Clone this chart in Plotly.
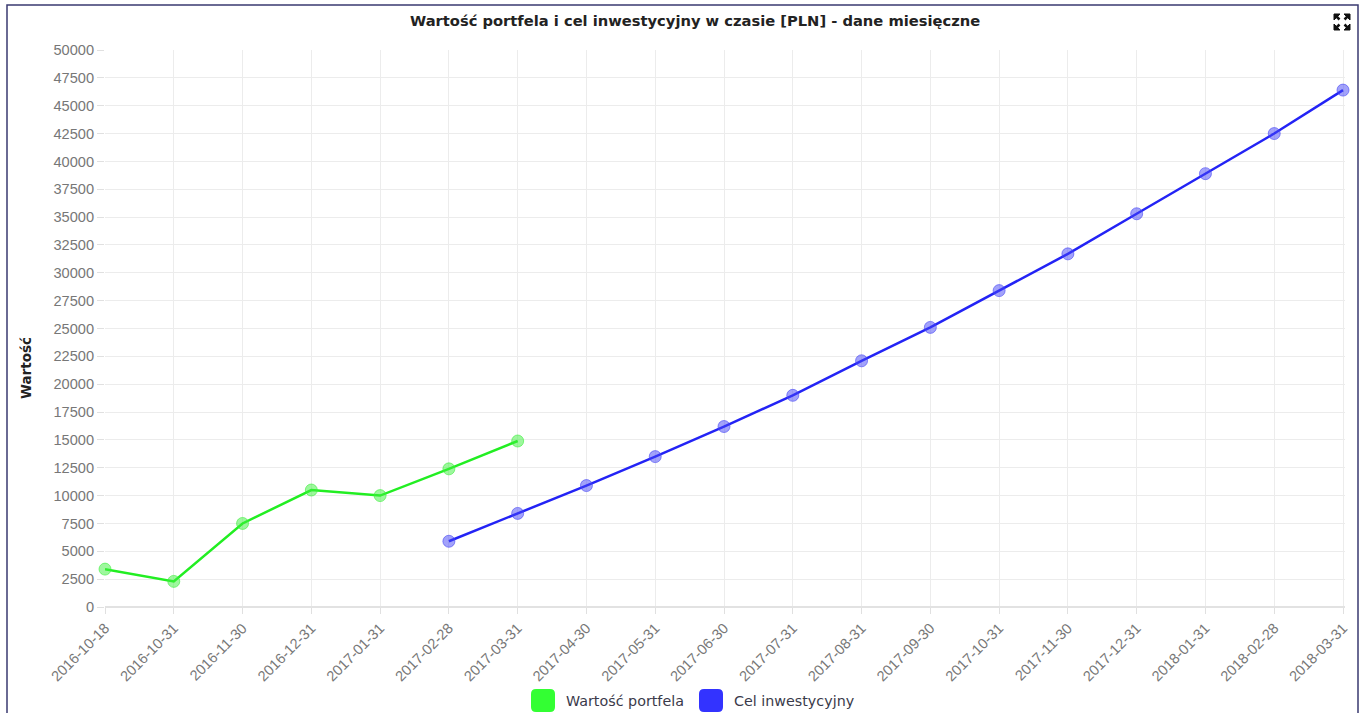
import plotly.graph_objects as go

categories = ["2016-10-18", "2016-10-31", "2016-11-30", "2016-12-31", "2017-01-31",
              "2017-02-28", "2017-03-31", "2017-04-30", "2017-05-31", "2017-06-30",
              "2017-07-31", "2017-08-31", "2017-09-30", "2017-10-31", "2017-11-30",
              "2017-12-31", "2018-01-31", "2018-02-28", "2018-03-31"]
portfolio_dates = categories[:7]
portfolio_values = [3400, 2300, 7500, 10500, 10000, 12400, 14900]
target_dates = categories[5:]
target_values = [5900, 8400, 10900, 13500, 16200, 19000, 22100, 25100,
                 28400, 31700, 35300, 38900, 42500, 46400]
yticks = list(range(0, 50001, 2500))

W, H = 1365, 713
L, R, T, B = 105, 1345, 50, 607

def px(x):
    return (x - L) / (R - L)

def py(y):
    return (B - y) / (B - T)

fig = go.Figure()
fig.add_trace(go.Scatter(
    x=portfolio_dates, y=portfolio_values, mode="lines+markers",
    name="Wartość portfela", cliponaxis=False,
    line=dict(color="#22ee22", width=2.5),
    marker=dict(size=12, color="rgba(60,240,60,0.5)",
                line=dict(color="rgba(60,240,60,0.6)", width=1)),
))
fig.add_trace(go.Scatter(
    x=target_dates, y=target_values, mode="lines+markers",
    name="Cel inwestycyjny", cliponaxis=False,
    line=dict(color="#2323f5", width=2.5),
    marker=dict(size=12, color="rgba(70,70,245,0.5)",
                line=dict(color="rgba(70,70,245,0.6)", width=1)),
))

n = len(categories)
fig.update_xaxes(
    type="category", categoryorder="array", categoryarray=categories,
    range=[0, (n - 1) * (R - L) / 1238.0],
    showgrid=True, gridcolor="#ececec", gridwidth=1,
    tickangle=-45, ticks="outside", ticklen=6, tickcolor="#e0e0e0",
    tickfont=dict(family="Liberation Sans, Arial", size=14.6, color="#777"),
    showline=False, zeroline=False,
)
fig.update_yaxes(
    range=[0, 50000], tickvals=yticks, ticktext=[str(v) for v in yticks],
    showgrid=True, gridcolor="#ececec", gridwidth=1,
    ticks="outside", ticklen=7, tickcolor="#e0e0e0",
    tickfont=dict(family="Liberation Sans, Arial", size=14.6, color="#777"),
    zeroline=True, zerolinecolor="#e2e2e2", zerolinewidth=1.5,
)

shapes = []
# outer frame
shapes.append(dict(type="rect", xref="paper", yref="paper",
                   x0=px(7), x1=px(1358), y0=py(5), y1=py(740),
                   line=dict(color="#3a3a70", width=1.5), fillcolor="rgba(0,0,0,0)",
                   layer="below"))

# legend swatches (rounded squares)
def rounded(x0, y0, x1, y1, r):
    return (f"M {px(x0 + r)} {py(y0)} L {px(x1 - r)} {py(y0)} "
            f"Q {px(x1)} {py(y0)} {px(x1)} {py(y0 + r)} L {px(x1)} {py(y1 - r)} "
            f"Q {px(x1)} {py(y1)} {px(x1 - r)} {py(y1)} L {px(x0 + r)} {py(y1)} "
            f"Q {px(x0)} {py(y1)} {px(x0)} {py(y1 - r)} L {px(x0)} {py(y0 + r)} "
            f"Q {px(x0)} {py(y0)} {px(x0 + r)} {py(y0)} Z")

shapes.append(dict(type="path", xref="paper", yref="paper",
                   path=rounded(531, 689, 555, 712, 5),
                   fillcolor="#33ff33", line=dict(width=0)))
shapes.append(dict(type="path", xref="paper", yref="paper",
                   path=rounded(699, 689, 723, 712, 5),
                   fillcolor="#3333ff", line=dict(width=0)))

# expand icon (four outward arrows)
cx, cy = 1342, 22
for sx, sy in [(-1, -1), (1, -1), (-1, 1), (1, 1)]:
    ox, oy = cx + sx * 8, cy + sy * 8
    path = (f"M {px(ox)} {py(oy)} L {px(ox - sx * 6)} {py(oy)} "
            f"L {px(ox)} {py(oy - sy * 6)} Z")
    shapes.append(dict(type="path", xref="paper", yref="paper", path=path,
                       fillcolor="#111", line=dict(color="#111", width=1)))
    shapes.append(dict(type="line", xref="paper", yref="paper",
                       x0=px(ox - sx * 2), y0=py(oy - sy * 2),
                       x1=px(cx + sx * 2.5), y1=py(cy + sy * 2.5),
                       line=dict(color="#111", width=2.5)))

annotations = [
    dict(text="<b>Wartość portfela i cel inwestycyjny w czasie [PLN] - dane miesięczne</b>",
         xref="paper", yref="paper", x=px(695), y=py(20), xanchor="center", yanchor="middle",
         showarrow=False, font=dict(family="DejaVu Sans", size=14.7, color="#222")),
    dict(text="<b>Wartość</b>", textangle=-90,
         xref="paper", yref="paper", x=px(26), y=py(368), xanchor="center", yanchor="middle",
         showarrow=False, font=dict(family="DejaVu Sans", size=13.5, color="#222")),
    dict(text="Wartość portfela", xref="paper", yref="paper", x=px(564), y=py(701),
         xanchor="left", yanchor="middle", showarrow=False,
         font=dict(family="DejaVu Sans", size=14.3, color="#3a3a4a")),
    dict(text="Cel inwestycyjny", xref="paper", yref="paper", x=px(732), y=py(701),
         xanchor="left", yanchor="middle", showarrow=False,
         font=dict(family="DejaVu Sans", size=14.3, color="#3a3a4a")),
]

fig.update_layout(
    width=W, height=H,
    margin=dict(l=L, r=W - R, t=T, b=H - B, autoexpand=False),
    paper_bgcolor="white", plot_bgcolor="white",
    showlegend=False,
    shapes=shapes, annotations=annotations,
)

fig.write_html("out.html", config={"displayModeBar": False},
               post_script="document.body.style.margin='0';document.body.style.overflow='hidden';")
